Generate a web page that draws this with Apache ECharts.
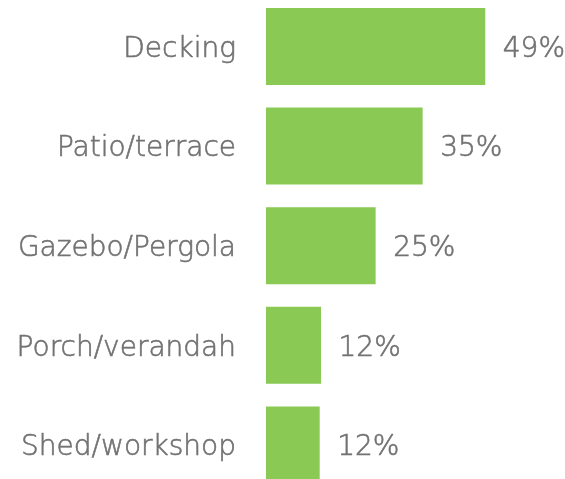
<!DOCTYPE html>
<html><head><meta charset="utf-8">
<script src="https://cdn.jsdelivr.net/npm/echarts@6/dist/echarts.min.js"></script>
<style>html,body{margin:0;padding:0;background:#fff}#c{width:565px;height:479px}</style>
</head><body><div id="c"></div>
<script>
const categories = ["Decking", "Patio/terrace", "Gazebo/Pergola", "Porch/verandah", "Shed/workshop"];
const values = [49, 35, 24.5, 12.3, 12];
const valueLabels = ["49%", "35%", "25%", "12%", "12%"];

const textStyle = {
  color: '#727272', fontSize: 28, fontWeight: 200, fontFamily: 'DejaVu Sans',
  textBorderColor: '#727272', textBorderWidth: 0.6
};

const chart = echarts.init(document.getElementById('c'), null, {renderer: 'canvas'});
chart.setOption({
  animation: false,
  grid: {left: 266, right: 30.5, top: -3.3, height: 498, containLabel: false, outerBoundsMode: 'none'},
  xAxis: {type: 'value', min: 0, max: 60, show: false},
  yAxis: {
    type: 'category', data: categories, inverse: true,
    axisLine: {show: false}, axisTick: {show: false},
    axisLabel: Object.assign({margin: 30, verticalAlign: 'top', lineHeight: 6}, textStyle)
  },
  series: [{
    type: 'bar', data: values, barWidth: 77,
    itemStyle: {color: '#8BC955'},
    label: Object.assign({
      show: true, position: 'right', distance: 17.5, offset: [0, 3],
      formatter: p => valueLabels[p.dataIndex]
    }, textStyle)
  }]
});
</script></body></html>
